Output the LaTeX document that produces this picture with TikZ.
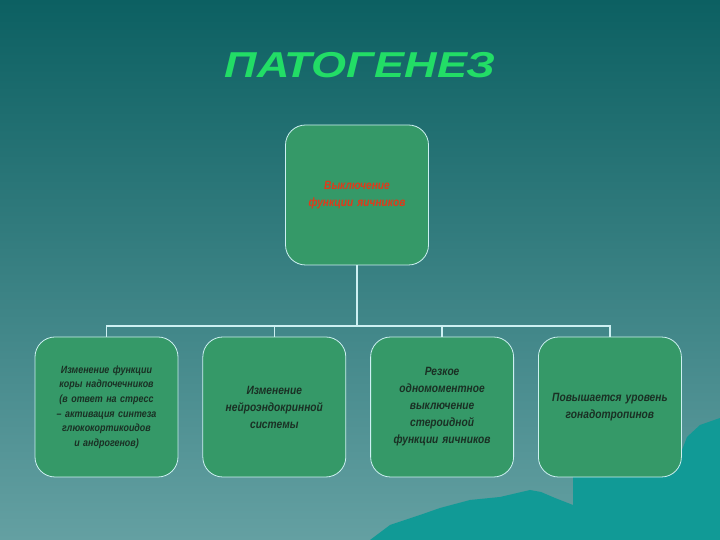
\documentclass[tikz,border=0pt]{standalone}
\usepackage{fontspec}
\setmainfont{Liberation Sans}
\newfontfamily\boxfont[FakeStretch=0.85]{Liberation Sans}
\newfontfamily\titlefont[FakeStretch=1.25]{Liberation Sans}
\usetikzlibrary{positioning}

\definecolor{bgtop}{RGB}{12,96,98}
\definecolor{bgbottom}{RGB}{100,160,162}
\definecolor{hill}{RGB}{17,154,150}
\definecolor{boxgreen}{RGB}{53,153,104}
\definecolor{boxline}{RGB}{205,240,242}
\definecolor{boxtext}{RGB}{26,48,36}
\definecolor{redtext}{RGB}{224,58,26}
\definecolor{titlegreen}{RGB}{34,221,102}

\begin{document}
\begin{tikzpicture}[x=1pt, y=1pt,
  model/.style = {draw=boxline, line width=0.8pt, fill=boxgreen,
    rounded corners=20pt, minimum width=143pt, minimum height=140pt,
    text width=125pt, align=center, text=boxtext,
    font=\boxfont\bfseries\itshape\fontsize{12}{17}\selectfont},
  edge/.style = {draw=boxline, line width=1.5pt},
  node distance = 24pt]

  % background
  \useasboundingbox (0,0) rectangle (720,540);
  \shade[top color=bgtop, bottom color=bgbottom] (0,0) rectangle (720,540);
  \fill[hill] (370,0) -- (390,15) -- (420,25) -- (440,32) -- (470,40)
    -- (500,43) -- (530,50) -- (541,48) -- (555,42) -- (573,35)
    -- (573,63) -- (677,77) -- (687,103) -- (700,115) -- (720,122)
    -- (720,0) -- cycle;

  \node[text=titlegreen, font=\titlefont\bfseries\itshape\fontsize{36}{40}\selectfont]
    (title) at (360,475) {ПАТОГЕНЕЗ};

  \node[model, text=redtext] (ovar) at (357,345)
    {Выключение\\функции яичников};

  \node[model, font=\boxfont\bfseries\itshape\fontsize{10.5}{14.6}\selectfont]
    (adren) at (106.5,133)
    {Изменение функции\\коры надпочечников\\(в ответ на стресс\\– активация синтеза\\глюкокортикоидов\\и андрогенов)};
  \node[model, right = of adren] (neuro)
    {Изменение\\нейроэндокринной\\системы};
  \node[model, right = of neuro] (steroid)
    {Резкое\\одномоментное\\выключение\\стероидной\\функции яичников};
  \node[model, right = of steroid] (gonad)
    {Повышается уровень\\гонадотропинов};

  \coordinate (bus) at (357,214);
  \draw[edge] (ovar.south) -- (bus);
  \draw[edge] (adren.north) -- (adren.north |- bus) -- (gonad.north |- bus) -- (gonad.north);
  \draw[edge] (neuro.north) -- (neuro.north |- bus);
  \draw[edge] (steroid.north) -- (steroid.north |- bus);
\end{tikzpicture}
\end{document}
